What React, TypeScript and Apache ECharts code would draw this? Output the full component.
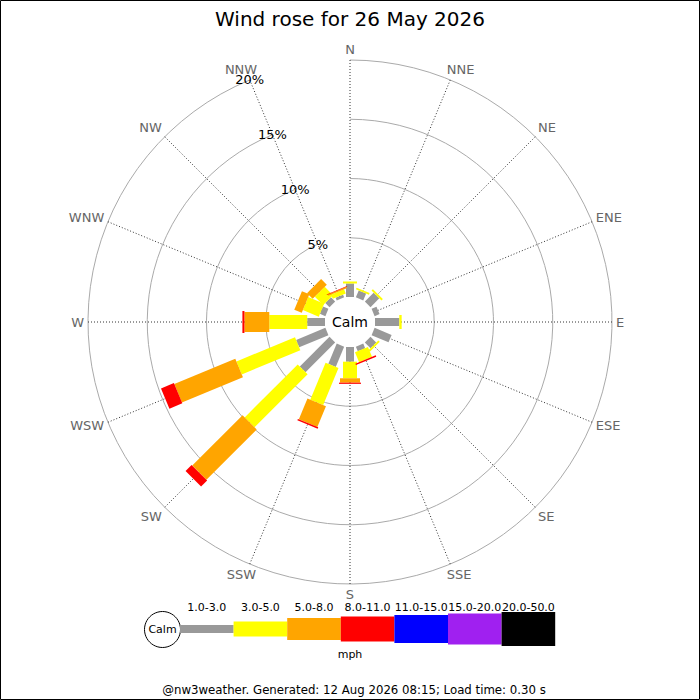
import React, { useEffect, useRef } from "react";
import * as echarts from "echarts";

const directions = ["N", "NNE", "NE", "ENE", "E", "ESE", "SE", "SSE", "S", "SSW", "SW", "WSW", "W", "WNW", "NW", "NNW"];
const speedBins = ["1.0-3.0", "3.0-5.0", "5.0-8.0", "8.0-11.0", "11.0-15.0", "15.0-20.0", "20.0-50.0"];
const binColors = ["#999999", "#ffff00", "#ffa500", "#ff0000", "#0000ff", "#a020f0", "#000000"];
const binWidths = [8, 14, 20, 22, 24, 26, 28];

// percentage of time per direction and speed bin
const bin1to3 = [1.14, 0.63, 1.05, 0.45, 2.05, 1.55, 0.68, 0.42, 1.24, 1.85, 3.54, 2.67, 1.5, 0.5, 0.5, 0.25];
const bin3to5 = [0.17, 0.15, 0.17, 0, 0.2, 0, 0.17, 0.9, 1.4, 3.38, 6.33, 5.35, 3.2, 1.45, 1.0, 0.38];
const bin5to8 = [0, 0, 0, 0, 0, 0, 0, 0, 0.37, 1.9, 6.0, 5.57, 2.1, 0.68, 0.68, 0.12];
const bin8to11 = [0, 0, 0, 0, 0, 0, 0, 0.12, 0.1, 0.13, 0.72, 1.18, 0.17, 0, 0, 0.04];
const bin11to15 = [0, 0, 0, 0, 0, 0, 0, 0, 0, 0, 0, 0, 0, 0, 0, 0];
const bin15to20 = [0, 0, 0, 0, 0, 0, 0, 0, 0, 0, 0, 0, 0, 0, 0, 0];
const bin20to50 = [0, 0, 0, 0, 0, 0, 0, 0, 0, 0, 0, 0, 0, 0, 0, 0];
const radiusTicks = [0, 5, 10, 15, 20];

const title = "Wind rose for 26 May 2026";
const footer = "@nw3weather. Generated: 12 Aug 2026 08:15; Load time: 0.30 s";
const unitLabel = "mph";
const calmLabel = "Calm";

const FONT = "DejaVu Sans";

// small label nudges (padding: top, right, bottom, left)
const labelPadding: Record<string, number[]> = {
  NNE: [0, 0, 0, -5],
  SSE: [0, 0, 0, -5],
  NNW: [0, -9, 0, 0],
  SSW: [0, -8, 0, 0],
  ENE: [0, 0, -4, 0],
  WNW: [0, 0, -4, 0],
  ESE: [-5, 0, 0, 0],
  WSW: [-5, 0, 0, 0],
};

export default function App() {
  const ref = useRef<HTMLDivElement>(null);
  useEffect(() => {
    if (!ref.current) return;
    const chart = echarts.init(ref.current, null, { renderer: "svg" });
    const bins = [bin1to3, bin3to5, bin5to8, bin8to11, bin11to15, bin15to20, bin20to50];
    const cum = directions.map(() => 0);
    const series: any[] = bins.map((vals, bi) => {
      const data = vals.map((v, di) => {
        const s = cum[di];
        cum[di] += v;
        return [s, di, cum[di]];
      });
      const w = binWidths[bi];
      const color = binColors[bi];
      return {
        type: "custom",
        name: speedBins[bi],
        coordinateSystem: "polar",
        polarIndex: 0,
        data,
        renderItem: (params: any, api: any) => {
          const s = api.value(0);
          const idx = api.value(1);
          const e = api.value(2);
          if (!(e - s > 0)) return null;
          const o = api.coord([0, idx]);
          const f = api.coord([radiusTicks[radiusTicks.length - 1], idx]);
          const a = api.coord([s, idx]);
          const b = api.coord([e, idx]);
          const dx = f[0] - o[0];
          const dy = f[1] - o[1];
          const len = Math.sqrt(dx * dx + dy * dy) || 1;
          const nx = (-dy / len) * (w / 2);
          const ny = (dx / len) * (w / 2);
          return {
            type: "polygon",
            shape: {
              points: [
                [a[0] + nx, a[1] + ny],
                [b[0] + nx, b[1] + ny],
                [b[0] - nx, b[1] - ny],
                [a[0] - nx, a[1] - ny],
              ],
            },
            style: { fill: color },
          };
        },
      };
    });

    const legendX0 = 180;
    const legendStep = 53.6;
    const legendY = 629;
    const legendEls: any[] = [];
    speedBins.forEach((lab, i) => {
      legendEls.push({
        type: "rect",
        shape: { x: legendX0 + i * legendStep, y: legendY - binWidths[i] / 2 - 0.5 * i, width: legendStep, height: binWidths[i] + i },
        style: { fill: binColors[i] },
      });
      legendEls.push({
        type: "text",
        x: legendX0 + i * legendStep + legendStep / 2,
        y: 607,
        style: { text: lab, fontSize: 11, fontFamily: FONT, fill: "#000", align: "center", verticalAlign: "middle" },
      });
    });

    const angleData = directions.map((d) =>
      labelPadding[d] ? { value: d, textStyle: { padding: labelPadding[d] } } : d
    );

    chart.setOption({
      animation: false,
      backgroundColor: "#fff",
      title: {
        text: title,
        left: "center",
        top: 4,
        textStyle: { fontSize: 20, fontWeight: "normal", color: "#000", fontFamily: FONT },
      },
      polar: [
        { center: [350, 322], radius: [25, 262] },
        { center: [350, 322], radius: [25, 262] },
      ],
      angleAxis: [
        {
          polarIndex: 0,
          type: "category",
          data: angleData,
          boundaryGap: false,
          startAngle: 90,
          clockwise: true,
          axisLine: { show: false },
          axisTick: { show: false },
          axisLabel: { color: "#666", fontSize: 13, fontFamily: FONT, margin: 4 },
          splitLine: { show: true, lineStyle: { color: "#333", width: 1, type: [1, 2] } },
          z: 1,
        },
        {
          polarIndex: 1,
          type: "value",
          min: 0,
          max: 360,
          startAngle: 112.5,
          show: false,
        },
      ],
      radiusAxis: [
        {
          polarIndex: 0,
          type: "value",
          min: 0,
          max: 20,
          interval: 5,
          axisLine: { show: false },
          axisTick: { show: false },
          axisLabel: { show: false },
          splitLine: {
            show: true,
            lineStyle: { color: ["rgba(0,0,0,0)", "#aaa", "#aaa", "#aaa", "#aaa"], width: 1 },
          },
          z: 1,
        },
        {
          polarIndex: 1,
          type: "value",
          min: 0,
          max: 20,
          interval: 5,
          axisLine: { show: false },
          axisTick: { show: false },
          splitLine: { show: false },
          axisLabel: {
            show: true,
            margin: 0,
            rotate: 0,
            align: "center",
            verticalAlign: "middle",
            fontSize: 13,
            fontFamily: FONT,
            color: "#000",
            formatter: (v: number) => (v === 0 ? "" : v + "%"),
          },
          z: 10,
        },
      ],
      series,
      graphic: [
        {
          type: "text",
          x: 350,
          y: 322,
          z: 100,
          style: { text: calmLabel, fontSize: 14, fontFamily: FONT, fill: "#000", align: "center", verticalAlign: "middle" },
        },
        {
          type: "circle",
          shape: { cx: 162.5, cy: 629.5, r: 18 },
          style: { fill: "#fff", stroke: "#000", lineWidth: 1 },
        },
        {
          type: "text",
          x: 162.5,
          y: 629.5,
          style: { text: calmLabel, fontSize: 11, fontFamily: FONT, fill: "#000", align: "center", verticalAlign: "middle" },
        },
        ...legendEls,
        {
          type: "text",
          x: 350,
          y: 654,
          style: { text: unitLabel, fontSize: 11, fontFamily: FONT, fill: "#000", align: "center", verticalAlign: "middle" },
        },
        {
          type: "text",
          x: 354,
          y: 690,
          style: { text: footer, fontSize: 11.75, fontFamily: FONT, fill: "#000", align: "center", verticalAlign: "middle" },
        },
        {
          type: "rect",
          shape: { x: 0.5, y: 0.5, width: 699, height: 699 },
          style: { fill: "none", stroke: "#000", lineWidth: 1 },
          z: 200,
        },
      ],
    });
    return () => chart.dispose();
  }, []);
  return (
    <div
      ref={ref}
      style={{ position: "fixed", left: 0, top: 0, width: 700, height: 700, background: "#fff" }}
    />
  );
}
